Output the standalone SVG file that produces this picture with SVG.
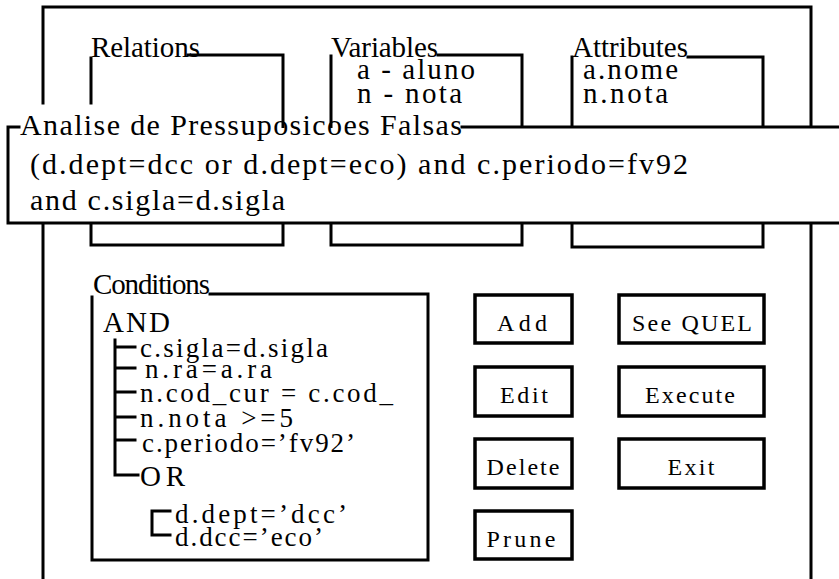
<svg xmlns="http://www.w3.org/2000/svg" width="839" height="579" viewBox="0 0 839 579">
<style>
.ln{fill:none;stroke:#000;stroke-width:3;stroke-linecap:square}
text{font-family:'Liberation Serif','Times New Roman','DejaVu Serif',serif;fill:#000}
.big{font-size:30px}
.lab{font-size:29px}
.cond{font-size:27px}
.btn{font-size:24px;text-anchor:middle}
.bx{fill:#fff;stroke:#000;stroke-width:3.5}
</style>
<rect width="839" height="579" fill="#fff"/>
<g id="frame">
<path class="ln" d="M43,103 V7 H811 V127 M43,224 V579 M811,224 V579"/>
</g>
<g id="relations">
<text class="lab" x="91" y="57" textLength="109">Relations</text>
<path class="ln" d="M91,58 V103 M188,55 H283 V127 M91,224 V245 H283 V224"/>
</g>
<g id="variables">
<text class="lab" x="331" y="57" textLength="107">Variables</text>
<text class="lab" x="357" y="79" textLength="118">a - aluno</text>
<text class="lab" x="357" y="103" textLength="105">n - nota</text>
<path class="ln" d="M331,56 V127 M438,55 H522 V127 M331,224 V245 H522 V224"/>
</g>
<g id="attributes">
<text class="lab" x="572" y="57" textLength="116">Attributes</text>
<text class="lab" x="583" y="79" textLength="95">a.nome</text>
<text class="lab" x="583" y="103" textLength="85">n.nota</text>
<path class="ln" d="M572,57 V127 M688,57 H763 V127 M572,224 V247 H763 V224"/>
</g>
<g id="popup">
<rect x="8" y="128" width="831" height="95" fill="#fff"/>
<path class="ln" d="M19,127 H8 V223 H839 M462,127 H839"/>
<text class="big" x="20" y="135" textLength="442">Analise de Pressuposicoes Falsas</text>
<text class="big" x="30" y="174" textLength="658">(d.dept=dcc or d.dept=eco) and c.periodo=fv92</text>
<text class="big" x="30" y="210" textLength="255">and c.sigla=d.sigla</text>
</g>
<g id="conditions">
<text class="lab" x="93" y="294" textLength="117">Conditions</text>
<path class="ln" d="M92,297 V560 H428 V294 H210"/>
<text class="lab" x="103" y="332" textLength="67">AND</text>
<text class="cond" x="140" y="357" textLength="188">c.sigla=d.sigla</text>
<text class="cond" x="145" y="378" textLength="127">n.ra=a.ra</text>
<text class="cond" x="140" y="402" textLength="253">n.cod_cur = c.cod_</text>
<text class="cond" x="140" y="427" textLength="153">n.nota &gt;=5</text>
<text class="cond" x="142" y="452" textLength="213">c.periodo=’fv92’</text>
<text class="lab" x="140" y="486" textLength="45">OR</text>
<text class="cond" x="175" y="523" textLength="172">d.dept=’dcc’</text>
<text class="cond" x="175" y="546" textLength="148">d.dcc=’eco’</text>
</g>
<g id="connectors">
<path class="ln" d="M115,340 V475 H138 M115,347 H135 M115,368 H135 M115,392 H135 M115,417 H135 M115,440 H135"/>
<path class="ln" d="M170,511 H152 V535 H170"/>
</g>
<g id="btn-add"><rect class="bx" x="475" y="295" width="97" height="48"/><text class="btn" x="522" y="331" textLength="50">Add</text></g>
<g id="btn-edit"><rect class="bx" x="475" y="367" width="97" height="49"/><text class="btn" x="524" y="403" textLength="48">Edit</text></g>
<g id="btn-delete"><rect class="bx" x="475" y="439" width="97" height="49"/><text class="btn" x="523" y="475" textLength="73">Delete</text></g>
<g id="btn-prune"><rect class="bx" x="475" y="511" width="97" height="48"/><text class="btn" x="521" y="547" textLength="69">Prune</text></g>
<g id="btn-seequel"><rect class="bx" x="619" y="295" width="145" height="48"/><text class="btn" x="692" y="331" textLength="120">See QUEL</text></g>
<g id="btn-execute"><rect class="bx" x="619" y="367" width="145" height="49"/><text class="btn" x="690" y="403" textLength="90">Execute</text></g>
<g id="btn-exit"><rect class="bx" x="619" y="439" width="145" height="49"/><text class="btn" x="691" y="475" textLength="47">Exit</text></g>
</svg>
